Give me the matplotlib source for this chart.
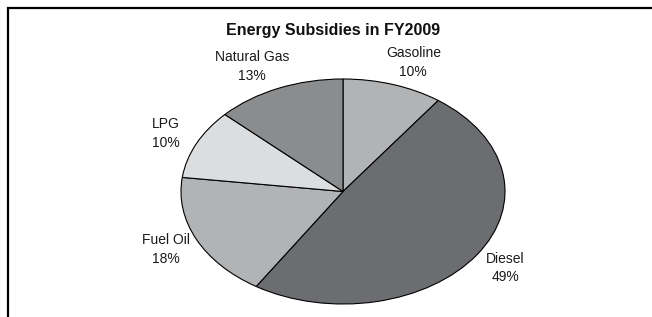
import matplotlib
matplotlib.use('Agg')
from matplotlib import pyplot as plt
from matplotlib.patches import Rectangle

plt.rcParams['font.family'] = ['Liberation Sans', 'DejaVu Sans']

# data
categories = ['Gasoline', 'Diesel', 'Fuel Oil', 'LPG', 'Natural Gas']
shares = [10, 49, 18, 10, 13]
colors = ['#b1b3b5', '#6c6d71', '#b1b3b5', '#dcdddf', '#8b8c8e']
title = 'Energy Subsidies in FY2009'

labels = ['{0}\n{1}%'.format(c, s) for c, s in zip(categories, shares)]

fig = plt.figure(figsize=(6.52, 3.17), dpi=100)
ax = fig.add_axes([181 / 652, 13 / 317, 324 / 652, 225 / 317])
wedges, texts = ax.pie(shares, labels=labels, colors=colors, startangle=90,
                       counterclock=False, labeldistance=1.21,
                       wedgeprops=dict(edgecolor='black', linewidth=0.8),
                       textprops=dict(fontsize=10, color='#1a1a1a'))
for t in texts:
    t.set_horizontalalignment('center')
    t.set_verticalalignment('center')
    t.set_multialignment('center')
    t.set_linespacing(1.45)
# small nudges of the top labels, as in the original
x, y = texts[4].get_position()
texts[4].set_position((x - 0.08, y))
x, y = texts[0].get_position()
texts[0].set_position((x + 0.06, y))
ax.set_aspect('auto')
ax.set_xlim(-1, 1)
ax.set_ylim(-1, 1)

fig.text(333 / 652, 1 - 31 / 317, title, ha='center', va='center',
         fontsize=11.5, fontweight='bold', color='#111111')

# frame open at right and bottom, like the cropped original
border = Rectangle((8 / 652, -0.2), 1.2, 1.2 - 8 / 317, transform=fig.transFigure,
                   fill=False, edgecolor='black', linewidth=1.6, clip_on=False)
fig.add_artist(border)

plt.savefig('out.png', dpi=100)
